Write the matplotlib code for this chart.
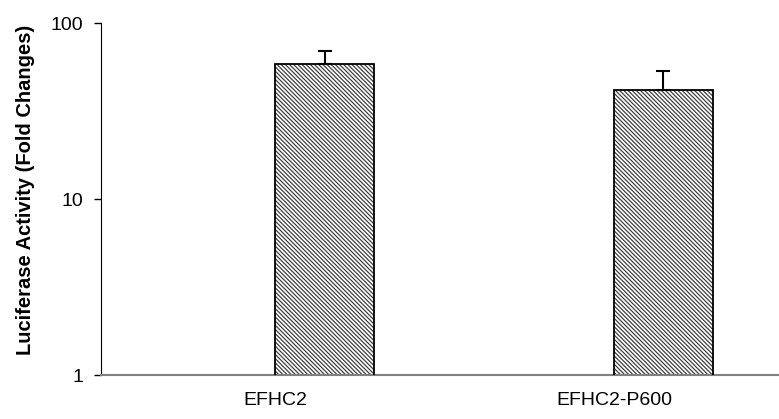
import matplotlib
matplotlib.use("Agg")
import matplotlib.pyplot as plt
import numpy as np

plt.rcParams['font.family'] = ['Liberation Sans', 'DejaVu Sans']
plt.rcParams['hatch.linewidth'] = 0.9

constructs = ["EFHC2", "EFHC2-P600"]
fold_change = [58.5, 41.6]
fold_error = [10.5, 11.8]

fig = plt.figure(figsize=(7.79, 4.19), dpi=100)
ax = fig.add_axes([0.1297, 0.105, 0.869, 0.840])

x = np.arange(len(constructs))
offset = 0.145
width = 0.2925

# hatch fill first, then the black outline on top
ax.bar(x + offset, fold_change, width, color="white", edgecolor="#404040",
       linewidth=0, hatch="\\" * 8, zorder=2)
ax.bar(x + offset, fold_change, width, fill=False, edgecolor="black",
       linewidth=1.3, zorder=3)
ax.errorbar(x + offset, fold_change, yerr=[np.zeros(len(x)), fold_error],
            fmt="none", ecolor="black", elinewidth=1.5, capsize=4.7,
            capthick=1.5, zorder=4)

ax.set_yscale("log")
ax.set_ylim(1, 100)
ax.set_xlim(-0.5155, 1.4845)
ax.set_yticks([1, 10, 100])
ax.set_yticklabels(["1", "10", "100"])
ax.yaxis.set_minor_locator(matplotlib.ticker.NullLocator())
ax.set_xticks(x)
ax.set_xticklabels(constructs)
ax.tick_params(axis="x", length=0, labelsize=14, pad=12)
ax.tick_params(axis="y", length=5, width=1, labelsize=14, pad=8, direction="out")

ax.spines["top"].set_visible(False)
ax.spines["right"].set_visible(False)
ax.spines["left"].set_color("black")
ax.spines["bottom"].set_color("#808080")
ax.spines["bottom"].set_linewidth(1.5)

ax.set_ylabel("Luciferase Activity (Fold Changes)", fontsize=14.5,
              fontweight="bold")
ax.yaxis.set_label_coords(-0.097, 0.525)

fig.savefig("out.png", dpi=100)
